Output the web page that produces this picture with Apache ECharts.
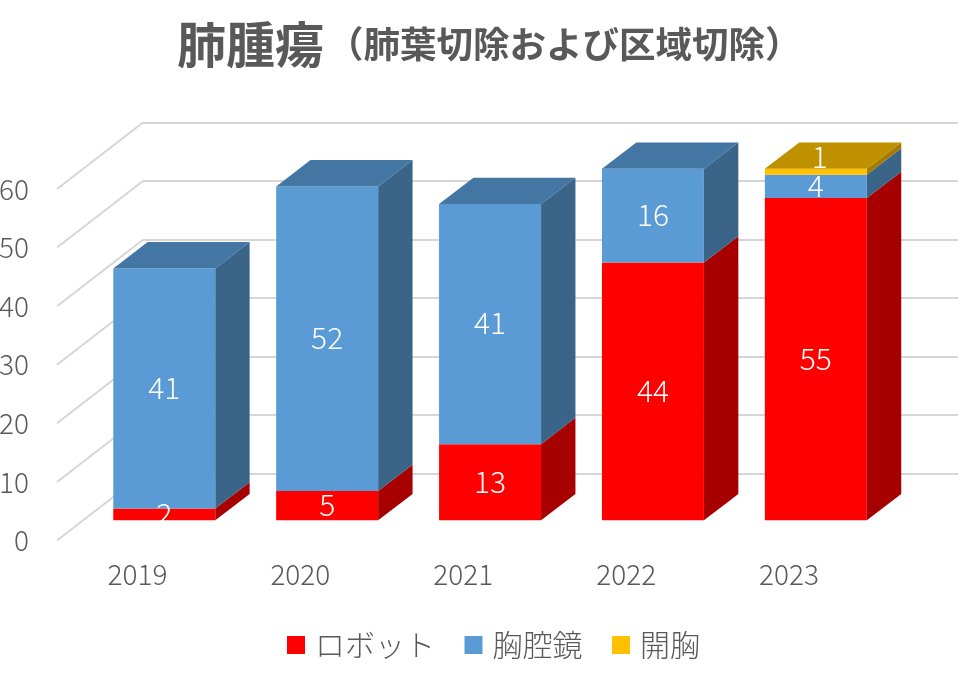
<!DOCTYPE html>
<html><head><meta charset="utf-8">
<style>html,body{margin:0;padding:0;background:#fff}#c{width:960px;height:680px}</style>
<script src="https://cdn.jsdelivr.net/npm/echarts@6/dist/echarts.min.js"></script>
</head><body><div id="c"></div>
<script>
const titleMain = '肺腫瘍';
const titleSub = '（肺葉切除および区域切除）';
const categories = ['2019','2020','2021','2022','2023'];
const robot = [2,5,13,44,55];
const thoracoscopic = [41,52,41,16,4];
const open = [0,0,0,0,1];
const yTicks = [0,10,20,30,40,50,60];
const FONT = '"Noto Sans CJK JP","Noto Sans",sans-serif';
const TXT = '#595959';
const WALL = {dx:87, dy:-66.5};      // front plane -> back wall
const BAR_PLANE = {dx:26.8, dy:-20.2}; // front plane -> bar front face
const DEPTH = {dx:34.4, dy:-26.3};   // bar thickness
const BAR_RATIO = 0.626;

const seriesDefs = [
  {name:'ロボット', values:robot, front:'#FF0000', side:'#A60000', top:'#C00000', lx:0, ly:-1},
  {name:'胸腔鏡', values:thoracoscopic, front:'#5B9BD5', side:'#3A6589', top:'#4476A3', lx:0, ly:-1},
  {name:'開胸', values:open, front:'#FFC000', side:'#A37B00', top:'#BF9000', lx:4, ly:-15}
];
const totals = categories.map((_,i)=>seriesDefs.reduce((s,d)=>s+d.values[i],0));

function barItem(def){
  return function(params, api){
    const i = api.value(0), lo = api.value(1), hi = api.value(2), v = hi-lo;
    if(v<=0) return {type:'group',children:[]};
    const bw = api.size([1,0])[0]*BAR_RATIO;
    const a = api.coord([i,lo]), b = api.coord([i,hi]);
    const xl = a[0]-bw/2+BAR_PLANE.dx, xr = xl+bw;
    const y0 = a[1]+BAR_PLANE.dy, y1 = b[1]+BAR_PLANE.dy;
    const ch = [];
    ch.push({type:'polygon',shape:{points:[[xr,y0],[xr+DEPTH.dx,y0+DEPTH.dy],[xr+DEPTH.dx,y1+DEPTH.dy],[xr,y1]]},style:{fill:def.side}});
    ch.push({type:'rect',shape:{x:xl,y:y1,width:bw,height:y0-y1},style:{fill:def.front}});
    if(hi===totals[i]){
      ch.push({type:'polygon',shape:{points:[[xl,y1],[xr,y1],[xr+DEPTH.dx,y1+DEPTH.dy],[xl+DEPTH.dx,y1+DEPTH.dy]]},style:{fill:def.top}});
    }
    ch.push({type:'text',x:(xl+xr)/2+def.lx,y:(y0+y1)/2+def.ly,z2:10,style:{text:String(v),fill:'#fff',font:'300 30px '+FONT,align:'center',verticalAlign:'middle'}});
    return {type:'group',children:ch};
  };
}

let cum = categories.map(()=>0);
const barSeries = seriesDefs.map(def=>{
  const data = def.values.map((v,i)=>{const r=[i,cum[i],cum[i]+v];cum[i]+=v;return r;});
  return {type:'custom',name:def.name,xAxisIndex:0,yAxisIndex:0,coordinateSystem:'cartesian2d',
    itemStyle:{color:def.front},encode:{x:0,y:[1,2]},data,renderItem:barItem(def),silent:true,clip:false};
});

const obliqueSeries = {
  type:'custom',xAxisIndex:0,yAxisIndex:0,silent:true,clip:false,encode:{y:0},
  data:yTicks.map(t=>[t]),
  renderItem(params,api){
    const y = api.coord([0,api.value(0)])[1], x = params.coordSys.x;
    return {type:'line',shape:{x1:x+1,y1:y,x2:x+WALL.dx,y2:y+WALL.dy},style:{stroke:'#D6D6D6',lineWidth:2,fill:null}};
  }
};

const chart = echarts.init(document.getElementById('c'),null,{renderer:'canvas'});
chart.setOption({
  animation:false,
  backgroundColor:'#fff',
  textStyle:{fontFamily:FONT},
  title:{left:177,top:14,padding:0,text:'{a|'+titleMain+'}{b|'+titleSub+'}',
    textStyle:{rich:{
      a:{fontFamily:FONT,fontWeight:'bold',fontSize:49,color:TXT,lineHeight:60,padding:[0,3,0,0]},
      b:{fontFamily:FONT,fontWeight:'bold',fontSize:36.5,color:TXT,lineHeight:60}
    }}},
  legend:{left:287,top:630,padding:0,icon:'rect',itemWidth:18,itemHeight:18,itemGap:29.5,selectedMode:false,
    data:seriesDefs.map(d=>d.name),
    textStyle:{color:TXT,fontSize:30,fontWeight:300,fontFamily:FONT,padding:[0,0,0,5]}},
  grid:[
    {left:56,top:189,width:814.5,height:351.5,outerBoundsMode:'none',containLabel:false},
    {left:56+WALL.dx,top:189+WALL.dy,width:815,height:351,outerBoundsMode:'none',containLabel:false}
  ],
  xAxis:[
    {type:'category',gridIndex:0,data:categories,axisLine:{show:false},axisTick:{show:false},
     axisLabel:{color:TXT,fontSize:28,fontWeight:300,fontFamily:FONT,margin:20},splitLine:{show:false}},
    {type:'category',gridIndex:1,data:categories,show:false}
  ],
  yAxis:[
    {type:'value',gridIndex:0,min:0,max:60,interval:10,axisLine:{show:false},axisTick:{show:false},
     axisLabel:{color:TXT,fontSize:28,fontWeight:300,fontFamily:FONT,margin:27},splitLine:{show:false}},
    {type:'value',gridIndex:1,min:0,max:60,interval:10,axisLine:{show:false},axisTick:{show:false},
     axisLabel:{show:false},splitLine:{show:true,lineStyle:{color:'#D6D6D6',width:2}}}
  ],
  series:[obliqueSeries].concat(barSeries)
});
</script></body></html>
